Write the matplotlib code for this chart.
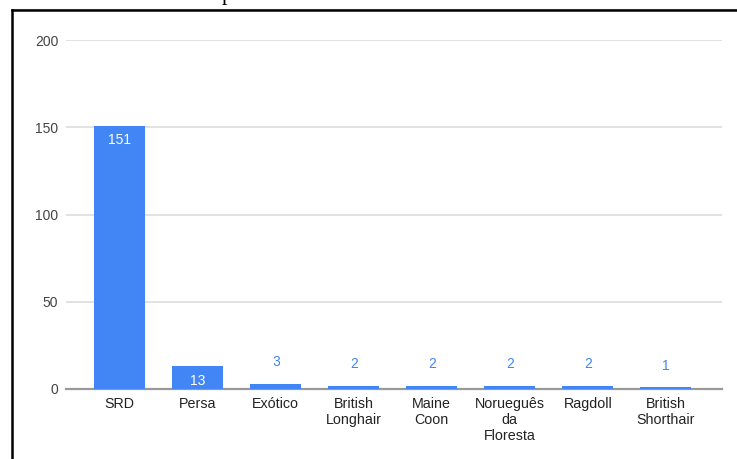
import matplotlib
matplotlib.use("Agg")
import matplotlib.pyplot as plt
from matplotlib.lines import Line2D

# ================================================================
# DATA
# ================================================================
breeds = [
    "SRD",
    "Persa",
    "Exótico",
    "British\nLonghair",
    "Maine\nCoon",
    "Norueguês\nda\nFloresta",
    "Ragdoll",
    "British\nShorthair",
]
counts = [151, 13, 3, 2, 2, 2, 2, 1]
y_ticks = [0, 50, 100, 150, 200]

BAR_COLOR = "#4285F4"
W, H = 737, 459

plt.rcParams["font.family"] = ["Liberation Sans", "DejaVu Sans"]

fig = plt.figure(figsize=(W / 100, H / 100), dpi=100)
ax = fig.add_axes([66 / W, (H - 389) / H, (722 - 66) / W, 349 / H])

x = list(range(len(breeds)))
bars = ax.bar(x, counts, width=0.65, color=BAR_COLOR, zorder=3)

ax.set_xlim(-0.69, 7.72)
ax.set_ylim(0, 200)
ax.set_yticks(y_ticks)
ax.set_yticklabels([str(t) for t in y_ticks], fontsize=10, color="#444444")
ax.set_xticks(x)
ax.set_xticklabels(breeds, fontsize=10.3, color="#222222", linespacing=1.15, va="top")
ax.tick_params(axis="both", length=0)
ax.tick_params(axis="x", pad=6)
ax.tick_params(axis="y", pad=5.5)

ax.grid(axis="y", color="#dddddd", linewidth=1.2, zorder=0)
for s in ax.spines.values():
    s.set_visible(False)
# baseline sits under the bars so tiny bars still show blue
ax.axhline(0, color="#999999", linewidth=1.6, zorder=2, clip_on=False)

# value labels: inside tall bars, above short ones
for rect, v in zip(bars, counts):
    cx = rect.get_x() + rect.get_width() / 2
    if v > 10:
        ax.annotate(str(v), (cx, v), xytext=(0, -10.5), textcoords="offset points",
                    ha="center", va="center", color="white", fontsize=10, zorder=5)
    else:
        ax.annotate(str(v), (cx, v), xytext=(0, 15.5), textcoords="offset points",
                    ha="center", va="center", color=BAR_COLOR, fontsize=10, zorder=5)

# frame around the chart (left and top edges)
fig.add_artist(Line2D([11.5 / W, 1], [1 - 8.5 / H, 1 - 8.5 / H], transform=fig.transFigure,
                      color="#bbbbbb", linewidth=0.8))
fig.add_artist(Line2D([11.5 / W, 11.5 / W], [0, 1 - 10 / H], transform=fig.transFigure,
                      color="black", linewidth=1.8))
fig.add_artist(Line2D([11.5 / W, 1], [1 - 10 / H, 1 - 10 / H], transform=fig.transFigure,
                      color="black", linewidth=1.8))

# descender of the caption text above
fig.text(222 / W, 1.0, "p", family="Liberation Serif", fontsize=16,
         ha="left", va="baseline", color="black")

fig.savefig("out.png", dpi=100)
